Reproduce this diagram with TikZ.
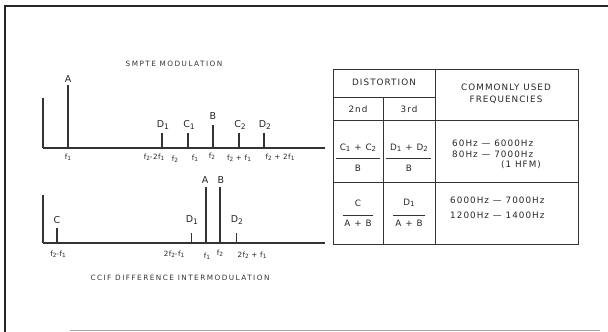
\documentclass[tikz,border=0pt]{standalone}
\usepackage{fontspec}
\setmainfont{DejaVu Sans}
\newfontfamily\ttlfont[LetterSpace=20]{DejaVu Sans}
\newfontfamily\tblfont[LetterSpace=12]{DejaVu Sans}
\newfontfamily\ffont[LetterSpace=6]{DejaVu Sans}
\newcommand{\lo}[1]{\raisebox{-0.3ex}{\scalebox{0.8}{#1}}}
\begin{document}
\begin{tikzpicture}[x=1pt,y=-1pt,
  frame/.style={line width=1.6pt,black!85},
  axisline/.style={line width=1.4pt,black!80},
  spike/.style={line width=1.1pt,black!80},
  tline/.style={line width=1pt,black!80},
  lbl/.style={font=\fontsize{9.5}{10}\selectfont,inner sep=0pt,text=black!85},
  flbl/.style={font=\ffont\fontsize{7.2}{8}\selectfont,inner sep=0pt,text=black!85},
  ttl/.style={font=\ttlfont\fontsize{7.3}{8}\selectfont,inner sep=0pt,text=black!80},
  cell/.style={font=\tblfont\fontsize{8.8}{10}\selectfont,inner sep=0pt,text=black!85,align=center},
  fbar/.style={line width=0.7pt,black!80}]
\useasboundingbox (0,0) rectangle (608,332);
% frame
\draw[frame] (5,332) -- (5,6) -- (608,6);
\draw[line width=1pt,black!35] (70,330) -- (600,330);
% ---------- SMPTE ----------
\node[ttl] (t1) at (174,64) {SMPTE MODULATION};
\coordinate (a0) at (43,148); \coordinate (a1) at (325,148);
\draw[axisline] (a0) -- (a1);
\draw[spike] (43,98) -- (a0);
\draw[spike] (68,85) -- (68,148);
\node[lbl] (lA) at (68,79) {A};
\draw[spike] (162,133) -- (162,148);
\node[lbl] (lD1) at (163,125) {D\lo{1}};
\draw[spike] (188,133) -- (188,148);
\node[lbl] (lC1) at (189,125) {C\lo{1}};
\draw[spike] (213,125) -- (213,148);
\node[lbl] (lB) at (213,116) {B};
\draw[spike] (239,133) -- (239,148);
\node[lbl] (lC2) at (240,125) {C\lo{2}};
\draw[spike] (264,133) -- (264,148);
\node[lbl] (lD2) at (265,125) {D\lo{2}};
\node[flbl] (f1a) at (68,157) {f\lo{1}};
\node[flbl] (fa) at (154,157) {f\lo{2}-2f\lo{1}};
\node[flbl] (fb) at (175,159) {f\lo{2}};
\node[flbl] (fc) at (195,158) {f\lo{1}};
\node[flbl] (fd) at (212,156) {f\lo{2}};
\node[flbl] (fe) at (239,158) {f\lo{2} + f\lo{1}};
\node[flbl] (ff) at (280,157) {f\lo{2} + 2f\lo{1}};
% ---------- CCIF ----------
\coordinate (b0) at (43,243); \coordinate (b1) at (325,243);
\draw[axisline] (b0) -- (b1);
\draw[spike] (43,195) -- (b0);
\draw[spike] (57,228) -- (57,243);
\node[lbl] (bC) at (57,220) {C};
\draw[spike,line width=0.8pt] (191,233) -- (191,243);
\node[lbl] (bD1) at (192,220) {D\lo{1}};
\draw[spike] (206,187) -- (206,243);
\node[lbl] (bA) at (205,180) {A};
\draw[spike] (220,187) -- (220,243);
\node[lbl] (bB) at (221,180) {B};
\draw[spike,line width=0.8pt] (236,233) -- (236,243);
\node[lbl] (bD2) at (237,220) {D\lo{2}};
\node[flbl] (g1) at (58,254) {f\lo{2}-f\lo{1}};
\node[flbl] (g2) at (174,254) {2f\lo{2}-f\lo{1}};
\node[flbl] (g3) at (207,256) {f\lo{1}};
\node[flbl] (g4) at (220,253) {f\lo{2}};
\node[flbl] (g5) at (252,255) {2f\lo{2} + f\lo{1}};
\node[ttl] (t2) at (180,278) {CCIF DIFFERENCE INTERMODULATION};
% ---------- table ----------
\draw[tline] (333,69) rectangle (578,244);
\draw[tline] (435,69) -- (435,244);
\draw[tline] (333,97) -- (435,97);
\draw[tline] (383,97) -- (383,244);
\draw[tline] (333,120) -- (578,120);
\draw[tline] (333,182) -- (578,182);
\node[cell] (hd) at (384,82) {DISTORTION};
\node[cell] (h2) at (358,109) {2nd};
\node[cell] (h3) at (409,109) {3rd};
\node[cell] (hf) at (506,94) {COMMONLY USED\\[2pt]FREQUENCIES};
% row 1
\node[cell] (r1a) at (358,148) {C\lo{1} + C\lo{2}};
\draw[fbar] (336,158) -- (380,158);
\node[cell] (r1ad) at (358,168) {B};
\node[cell] (r1b) at (409,148) {D\lo{1} + D\lo{2}};
\draw[fbar] (386,158) -- (431,158);
\node[cell] (r1bd) at (409,168) {B};
\node[cell,anchor=west] (r1f1) at (452,143.5) {60Hz — 6000Hz};
\node[cell,anchor=west] (r1f2) at (452,154.5) {80Hz — 7000Hz};
\node[cell] (r1f3) at (521,165) {(1 HFM)};
% row 2
\node[cell] (r2a) at (358,203) {C};
\draw[fbar] (343,215) -- (373,215);
\node[cell] (r2ad) at (358,223.5) {A + B};
\node[cell] (r2b) at (409,203) {D\lo{1}};
\draw[fbar] (393,215) -- (425,215);
\node[cell] (r2bd) at (409,223.5) {A + B};
\node[cell,anchor=west] (r2f1) at (450,200) {6000Hz — 7000Hz};
\node[cell,anchor=west] (r2f2) at (450,215) {1200Hz — 1400Hz};
\end{tikzpicture}
\end{document}
